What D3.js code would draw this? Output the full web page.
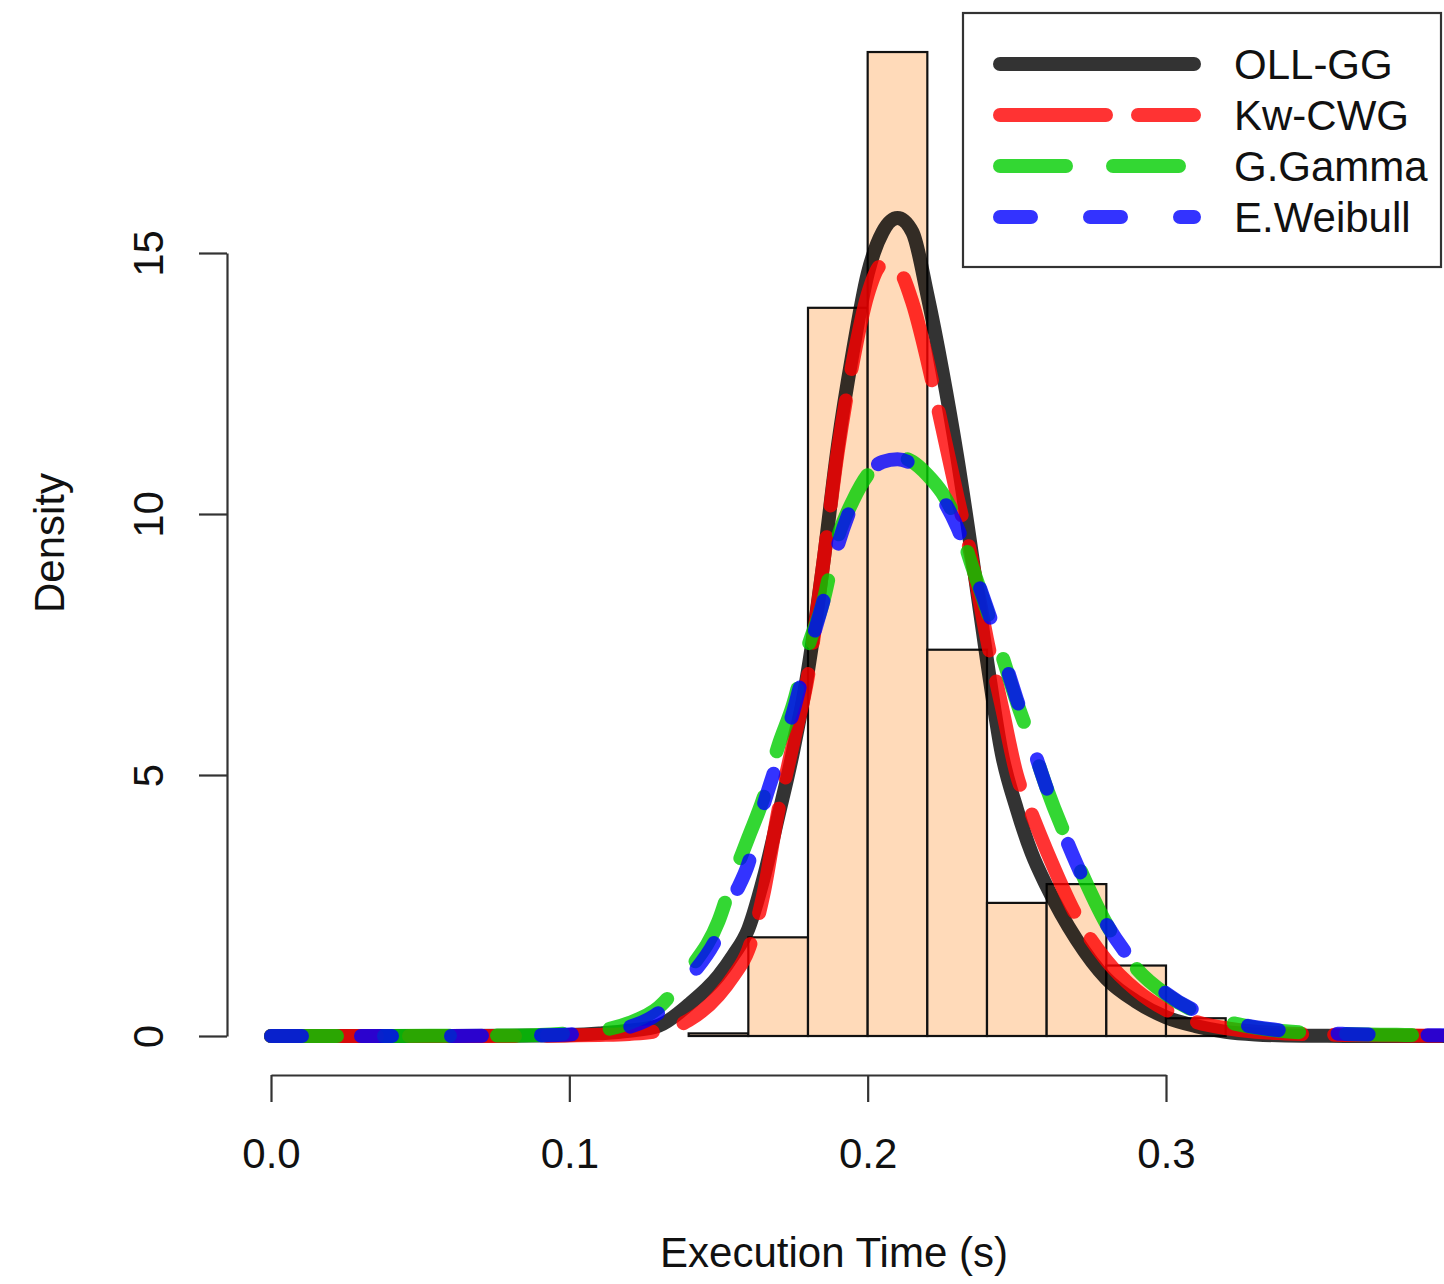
<!DOCTYPE html>
<html>
<head>
<meta charset="utf-8">
<script src="https://cdn.jsdelivr.net/npm/d3@7"></script>
<style>
  html, body { margin: 0; padding: 0; background: #fff; }
  svg { display: block; font-family: "Liberation Sans", Arial, Helvetica, sans-serif; }
</style>
</head>
<body>
<svg id="chart" width="1444" height="1284"></svg>
<script>
// ---------- data ----------
const binEdges = [0.14, 0.16, 0.18, 0.20, 0.22, 0.24, 0.26, 0.28, 0.30, 0.32];
const binDensity = [0.05, 1.89, 13.95, 18.85, 7.40, 2.55, 2.91, 1.35, 0.34];

const xGrid = [0, 0.02, 0.04, 0.06, 0.08, 0.09, 0.10, 0.11, 0.12, 0.13,
  0.14, 0.15, 0.155, 0.16, 0.165, 0.17, 0.175, 0.18, 0.185, 0.19,
  0.195, 0.20, 0.205, 0.21, 0.215, 0.22, 0.225, 0.23, 0.235, 0.24,
  0.245, 0.25, 0.255, 0.26, 0.27, 0.28, 0.29, 0.30, 0.31, 0.32,
  0.33, 0.34, 0.35, 0.36, 0.38, 0.40];

const ollgg = [0, 0, 0, 0, 0.005, 0.01, 0.02, 0.05, 0.1, 0.2,
  0.6, 1.15, 1.55, 2.05, 3.0, 4.2, 5.45, 7.0, 9.0, 11.3,
  13.1, 14.6, 15.4, 15.67, 15.4, 14.2, 12.75, 11.1, 9.2, 7.2,
  5.4, 4.35, 3.5, 2.87, 1.85, 1.1, 0.66, 0.36, 0.19, 0.08,
  0.03, 0.01, 0.005, 0, 0, 0];

const kwcwg = [0, 0, 0, 0, 0, 0.005, 0.01, 0.02, 0.04, 0.1,
  0.3, 0.78, 1.15, 1.65, 2.7, 4.3, 5.6, 6.9, 9.0, 11.2,
  12.9, 14.2, 14.78, 14.7, 14.05, 12.95, 11.65, 10.35, 9.1, 7.6,
  6.3, 5.0, 4.25, 3.55, 2.3, 1.45, 0.88, 0.5, 0.27, 0.15,
  0.08, 0.05, 0.03, 0.02, 0.01, 0];

const ggamma = [0, 0, 0, 0.005, 0.01, 0.02, 0.05, 0.1, 0.25, 0.55,
  1.25, 2.2, 3.05, 3.8, 4.55, 5.55, 6.35, 7.45, 8.3, 9.55,
  10.25, 10.75, 11.0, 11.1, 11.0, 10.75, 10.4, 9.85, 9.0, 8.15,
  7.3, 6.4, 5.6, 4.75, 3.35, 2.15, 1.3, 0.8, 0.47, 0.28,
  0.16, 0.09, 0.06, 0.04, 0.02, 0.01];

const eweibull = [0, 0, 0, 0, 0.01, 0.015, 0.03, 0.07, 0.17, 0.45,
  1.1, 1.95, 2.65, 3.3, 4.4, 5.3, 6.2, 7.3, 8.3, 9.4,
  10.2, 10.75, 11.0, 11.05, 10.95, 10.7, 10.3, 9.75, 9.0, 8.2,
  7.35, 6.45, 5.6, 4.75, 3.3, 2.15, 1.35, 0.82, 0.48, 0.29,
  0.17, 0.1, 0.06, 0.04, 0.02, 0.01];

const seriesNames = ["OLL-GG", "Kw-CWG", "G.Gamma", "E.Weibull"];
const xTicks = [0, 0.1, 0.2, 0.3];
const yTicks = [0, 5, 10, 15];
const xLabel = "Execution Time (s)";
const yLabel = "Density";

// ---------- styles ----------
const seriesStyle = [
  { color: "#000000", dash: null },
  { color: "#ff0000", dash: "106,32" },
  { color: "rgb(0,205,0)", dash: "66,47" },
  { color: "#0000ff", dash: "31,59" }
];
const LW = 14;
const FONT = 42;

const svg = d3.select("#chart");
const x = d3.scaleLinear().domain([0, 0.3]).range([271, 1166]);
const y = d3.scaleLinear().domain([0, 15]).range([1036, 253]);

// histogram
const bins = binDensity.map((d, i) => ({ x0: binEdges[i], x1: binEdges[i + 1], d }));
svg.append("g").selectAll("rect").data(bins).join("rect")
  .attr("x", b => x(b.x0))
  .attr("width", b => x(b.x1) - x(b.x0))
  .attr("y", b => y(b.d))
  .attr("height", b => y(0) - y(b.d))
  .attr("fill", "#FFDAB9")
  .attr("stroke", "#111")
  .attr("stroke-width", 2.2);

// curves
const allSeries = [ollgg, kwcwg, ggamma, eweibull];
const line = d3.line().x(d => x(d[0])).y(d => y(d[1])).curve(d3.curveMonotoneX);
svg.append("clipPath").attr("id", "plotclip")
  .append("rect").attr("x", 227).attr("y", 0).attr("width", 1444 - 227).attr("height", 1284);
const cg = svg.append("g").attr("clip-path", "url(#plotclip)");
allSeries.forEach((vals, i) => {
  const pts = xGrid.map((xv, j) => [xv, vals[j]]);
  const p = cg.append("path")
    .attr("d", line(pts))
    .attr("fill", "none")
    .attr("stroke", seriesStyle[i].color)
    .attr("stroke-opacity", 0.8)
    .attr("stroke-width", LW)
    .attr("stroke-linecap", "round")
    .attr("stroke-linejoin", "round");
  if (seriesStyle[i].dash) p.attr("stroke-dasharray", seriesStyle[i].dash);
});

// y axis
const yAxis = svg.append("g").attr("transform", "translate(227,0)")
  .call(d3.axisLeft(y).tickValues(yTicks).tickSize(28).tickSizeOuter(0).tickFormat(d3.format("d")));
yAxis.select(".domain").attr("stroke", "#333").attr("stroke-width", 2.2);
yAxis.selectAll(".tick line").attr("stroke", "#333").attr("stroke-width", 2.2);
yAxis.selectAll(".tick text")
  .attr("transform", "rotate(-90)")
  .attr("x", 0).attr("y", -64).attr("dy", 0)
  .attr("text-anchor", "middle")
  .attr("font-size", FONT)
  .attr("font-family", "Liberation Sans, Arial, sans-serif")
  .attr("fill", "#111");

// x axis
const xAxis = svg.append("g").attr("transform", "translate(0,1075)")
  .call(d3.axisBottom(x).tickValues(xTicks).tickSize(27).tickSizeOuter(0).tickFormat(d3.format(".1f")));
xAxis.select(".domain").attr("stroke", "#333").attr("stroke-width", 2.2);
xAxis.selectAll(".tick line").attr("stroke", "#333").attr("stroke-width", 2.2);
xAxis.selectAll(".tick text")
  .attr("y", 93).attr("dy", 0)
  .attr("font-size", FONT)
  .attr("font-family", "Liberation Sans, Arial, sans-serif")
  .attr("fill", "#111");

// axis titles
svg.append("text").attr("x", 834).attr("y", 1267)
  .attr("text-anchor", "middle").attr("font-size", FONT).attr("fill", "#111").text(xLabel);
svg.append("text").attr("transform", "translate(64,543) rotate(-90)")
  .attr("text-anchor", "middle").attr("font-size", FONT).attr("fill", "#111").text(yLabel);

// legend
const lg = svg.append("g");
lg.append("rect").attr("x", 963).attr("y", 13).attr("width", 478).attr("height", 254)
  .attr("fill", "#fff").attr("stroke", "#333").attr("stroke-width", 2.2);
seriesNames.forEach((name, i) => {
  const ry = 64 + i * 51;
  const l = lg.append("line")
    .attr("x1", 993 + LW / 2).attr("x2", 1201 - LW / 2)
    .attr("y1", ry).attr("y2", ry)
    .attr("stroke", seriesStyle[i].color)
    .attr("stroke-opacity", 0.8)
    .attr("stroke-width", LW)
    .attr("stroke-linecap", "round");
  if (seriesStyle[i].dash) l.attr("stroke-dasharray", seriesStyle[i].dash);
  lg.append("text").attr("x", 1234).attr("y", ry + 15)
    .attr("font-size", FONT).attr("fill", "#111").text(name);
});
</script>
</body>
</html>
